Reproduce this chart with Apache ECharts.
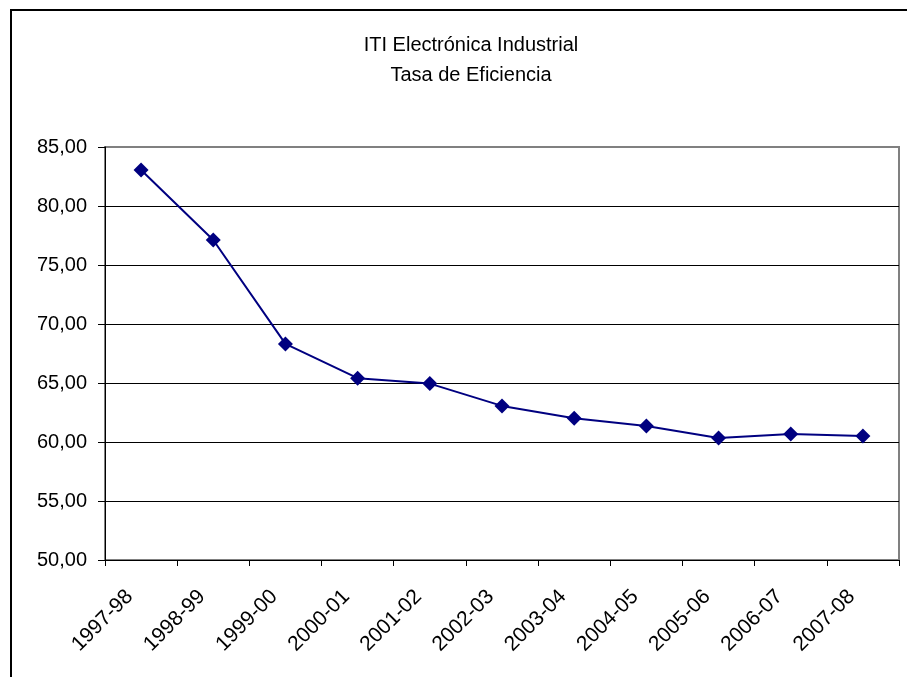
<!DOCTYPE html>
<html>
<head>
<meta charset="utf-8">
<script src="https://cdn.jsdelivr.net/npm/echarts@6/dist/echarts.min.js"></script>
<style>
html,body{margin:0;padding:0;background:#fff;}
#chart{width:907px;height:677px;}
</style>
</head>
<body>
<div id="chart"></div>
<script>
const titleLines = ['ITI Electrónica Industrial', 'Tasa de Eficiencia'];
const categories = ['1997-98','1998-99','1999-00','2000-01','2001-02','2002-03','2003-04','2004-05','2005-06','2006-07','2007-08'];
const efficiency = [83.05, 77.12, 68.31, 65.41, 64.95, 63.06, 62.01, 61.36, 60.34, 60.68, 60.51];
const yMin = 50, yMax = 85, yStep = 5;

const FONT = '"Liberation Sans", Arial, sans-serif';
const chart = echarts.init(document.getElementById('chart'));
chart.setOption({
  animation: false,
  backgroundColor: '#fff',
  title: {
    text: titleLines.join('\n'),
    left: 466,
    top: 25,
    textAlign: 'center',
    textStyle: { fontFamily: FONT, fontSize: 20, fontWeight: 'normal', color: '#000', lineHeight: 30 }
  },
  graphic: [{
    type: 'rect',
    shape: { x: 11, y: 10, width: 1000, height: 1000 },
    style: { fill: 'none', stroke: '#000', lineWidth: 2 },
    silent: true
  }],
  grid: {
    left: 105, top: 147, right: 8, bottom: 117,
    show: true, borderColor: '#808080', borderWidth: 2, backgroundColor: 'transparent'
  },
  xAxis: {
    type: 'category',
    data: categories,
    boundaryGap: true,
    axisLine: { show: true, lineStyle: { color: '#000', width: 1 } },
    axisTick: { show: true, alignWithLabel: false, length: 6, lineStyle: { color: '#000' } },
    axisLabel: { rotate: 45, interval: 0, margin: 22, padding: [0, 16, 0, 0], fontFamily: FONT, fontSize: 21, color: '#000' },
    splitLine: { show: false }
  },
  yAxis: {
    type: 'value',
    min: yMin, max: yMax, interval: yStep,
    axisLine: { show: true, lineStyle: { color: '#000', width: 1 } },
    axisTick: { show: true, length: 7, lineStyle: { color: '#000' } },
    axisLabel: {
      margin: 18, fontFamily: FONT, fontSize: 20, color: '#000',
      formatter: v => v.toFixed(2).replace('.', ',')
    },
    splitLine: { show: true, showMaxLine: false, lineStyle: { color: '#000', width: 1 } }
  },
  series: [{
    type: 'line',
    data: efficiency,
    symbol: 'diamond',
    symbolSize: 15,
    lineStyle: { color: '#000080', width: 2 },
    itemStyle: { color: '#000080' }
  }]
});
</script>
</body>
</html>
